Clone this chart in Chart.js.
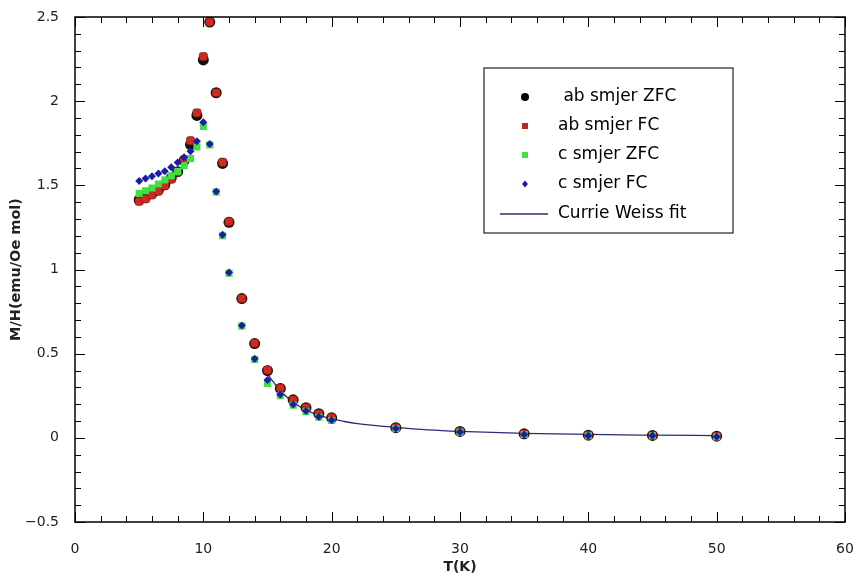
<!DOCTYPE html>
<html>
<head>
<meta charset="utf-8">
<script src="https://cdn.jsdelivr.net/npm/chart.js@4.4.1/dist/chart.umd.min.js"></script>
<style>
  html, body { margin: 0; padding: 0; background: #fff; }
  #wrap { width: 858px; height: 578px; }
</style>
</head>
<body>
<div id="wrap"><canvas id="grafico"></canvas></div>
<script>
// temperature points (K)
const tLow = [5, 5.5, 6, 6.5, 7, 7.5, 8, 8.5, 9, 9.5, 10, 10.5, 11, 11.5, 12, 13, 14, 15, 16, 17, 18, 19, 20, 25, 30, 35, 40, 45, 50];

// M/H values
const abZFC = [1.415, 1.43, 1.452, 1.472, 1.504, 1.543, 1.581, 1.647, 1.742, 1.915, 2.245, 2.47, 2.05, 1.63, 1.28, 0.827, 0.56, 0.399, 0.293, 0.226, 0.179, 0.143, 0.119, 0.06, 0.038, 0.024, 0.016, 0.014, 0.01];
const abFC  = [1.405, 1.42, 1.443, 1.466, 1.498, 1.538, 1.578, 1.652, 1.765, 1.93, 2.265, 2.47, 2.05, 1.637, 1.284, 0.827, 0.562, 0.402, 0.295, 0.226, 0.18, 0.143, 0.12, 0.06, 0.038, 0.024, 0.016, 0.014, 0.01];
const cZFC  = [1.452, 1.468, 1.484, 1.508, 1.532, 1.557, 1.583, 1.617, 1.659, 1.728, 1.85, 1.74, 1.46, 1.2, 0.978, 0.664, 0.465, 0.323, 0.25, 0.194, 0.155, 0.122, 0.103, 0.055, 0.033, 0.02, 0.012, 0.012, 0.006];
const cFC   = [1.526, 1.54, 1.554, 1.571, 1.583, 1.607, 1.635, 1.667, 1.702, 1.762, 1.875, 1.746, 1.464, 1.206, 0.982, 0.668, 0.47, 0.343, 0.258, 0.198, 0.159, 0.125, 0.105, 0.056, 0.034, 0.02, 0.012, 0.012, 0.006];

// Curie-Weiss fit curve
const fitT = [15, 16, 17, 18, 19, 20, 21, 22, 25, 27.5, 30, 35, 40, 45, 50];
const fitM = [0.378, 0.28, 0.212, 0.166, 0.135, 0.112, 0.097, 0.085, 0.062, 0.047, 0.038, 0.027, 0.02, 0.016, 0.013];

const legendLabels = [' ab smjer ZFC', 'ab smjer FC', 'c smjer ZFC', 'c smjer FC', 'Currie Weiss fit'];

const pts = (xs, ys) => xs.map((x, i) => ({ x: x, y: ys[i] }));

const FONT = "'DejaVu Sans', Verdana, sans-serif";

// inward ticks on all four sides + frame + legend box
const okvir = {
    id: 'okvir',
    afterDraw(chart) {
        const { ctx, chartArea: a, scales } = chart;
        const x = scales.x, y = scales.y;
        ctx.save();
        ctx.strokeStyle = '#000';
        ctx.lineWidth = 1;
        for (let v = 0; v <= 60; v += 2) {
            const px = Math.round(x.getPixelForValue(v)) + 0.5;
            const len = v % 10 === 0 ? 10 : 6;
            ctx.beginPath();
            ctx.moveTo(px, a.bottom); ctx.lineTo(px, a.bottom - len);
            ctx.moveTo(px, a.top); ctx.lineTo(px, a.top + len);
            ctx.stroke();
        }
        for (let i = -5; i <= 25; i++) {
            const py = Math.round(y.getPixelForValue(i / 10)) + 0.5;
            const len = i % 5 === 0 ? 10 : 6;
            ctx.beginPath();
            ctx.moveTo(a.left, py); ctx.lineTo(a.left + len, py);
            ctx.moveTo(a.right, py); ctx.lineTo(a.right - len, py);
            ctx.stroke();
        }
        ctx.lineWidth = 1.5;
        ctx.strokeRect(a.left, a.top, a.right - a.left, a.bottom - a.top);

        // legend box
        const bx = 484, by = 68, bw = 249, bh = 165;
        ctx.fillStyle = '#fff';
        ctx.fillRect(bx, by, bw, bh);
        ctx.lineWidth = 1.2;
        ctx.strokeStyle = '#222';
        ctx.strokeRect(bx, by, bw, bh);

        const rows = [97, 126, 155, 184, 214];
        const mx = 525;
        ctx.font = '17px ' + FONT;
        ctx.textBaseline = 'middle';
        ctx.fillStyle = '#000';
        legendLabels.forEach((t, i) => ctx.fillText(t, 558, rows[i]));

        ctx.fillStyle = '#000';
        ctx.beginPath(); ctx.arc(mx, rows[0], 4, 0, Math.PI * 2); ctx.fill();
        ctx.fillStyle = '#b52a22';
        ctx.fillRect(mx - 3, rows[1] - 3, 6, 6);
        ctx.fillStyle = '#3fe03f';
        ctx.fillRect(mx - 3, rows[2] - 3, 6, 6);
        ctx.fillStyle = '#1c1ca8';
        ctx.beginPath();
        ctx.moveTo(mx, rows[3] - 3.5); ctx.lineTo(mx + 3, rows[3]);
        ctx.lineTo(mx, rows[3] + 3.5); ctx.lineTo(mx - 3, rows[3]);
        ctx.closePath(); ctx.fill();
        ctx.strokeStyle = '#2b2b7a';
        ctx.lineWidth = 1.3;
        ctx.beginPath(); ctx.moveTo(500, rows[4]); ctx.lineTo(548, rows[4]); ctx.stroke();
        ctx.restore();
    }
};

const ctx = document.getElementById('grafico');
new Chart(ctx, {
    type: 'scatter',
    data: {
        datasets: [
            {
                label: legendLabels[4],
                data: pts(fitT, fitM),
                showLine: true,
                borderColor: '#2b2b7a',
                borderWidth: 1.3,
                pointRadius: 0,
                cubicInterpolationMode: 'monotone',
                order: 6
            },
            {
                label: legendLabels[0],
                data: pts(tLow, abZFC),
                pointStyle: 'circle',
                pointRadius: 5.5,
                backgroundColor: '#111',
                borderColor: '#111',
                borderWidth: 0,
                order: 5
            },
            {
                label: legendLabels[1],
                data: pts(tLow, abFC),
                pointStyle: 'rectRounded',
                pointRadius: 4.8,
                backgroundColor: '#d02a20',
                borderColor: '#6a1410',
                borderWidth: 0.6,
                order: 4
            },
            {
                label: legendLabels[2],
                data: pts(tLow, cZFC),
                pointStyle: 'rect',
                pointRadius: 5,
                backgroundColor: '#3fe03f',
                borderColor: '#3fe03f',
                borderWidth: 0,
                order: 3
            },
            {
                label: legendLabels[3],
                data: pts(tLow, cFC),
                pointStyle: 'rectRot',
                pointRadius: 4,
                backgroundColor: '#1c1ca8',
                borderColor: '#1c1ca8',
                borderWidth: 0,
                order: 2
            }
        ]
    },
    options: {
        responsive: true,
        maintainAspectRatio: false,
        animation: false,
        layout: { padding: { top: 17, right: 13, left: 8, bottom: 0 } },
        plugins: {
            legend: { display: false },
            tooltip: { enabled: false }
        },
        scales: {
            x: {
                type: 'linear',
                min: 0, max: 60,
                grid: { display: false, drawTicks: false },
                border: { display: false },
                afterFit: (s) => { s.height = 56; s.paddingLeft = 0; s.paddingRight = 0; },
                ticks: { stepSize: 10, padding: 19, color: '#222', font: { family: FONT, size: 14 } },
                title: { display: true, text: 'T(K)', color: '#222', padding: { top: 0, bottom: 2 }, font: { family: FONT, size: 14, weight: 'bold' } }
            },
            y: {
                type: 'linear',
                min: -0.5, max: 2.5,
                grid: { display: false, drawTicks: false },
                border: { display: false },
                afterFit: (s) => { s.width = 67; s.paddingTop = 0; s.paddingBottom = 0; },
                ticks: {
                    stepSize: 0.5, padding: 16, color: '#222', font: { family: FONT, size: 14 },
                    callback: (v) => String(v).replace('-', '\u2212')
                },
                title: { display: true, text: 'M/H(emu/Oe mol)', color: '#222', padding: { top: 0, bottom: 0 }, font: { family: FONT, size: 14.5, weight: 'bold' } }
            }
        }
    },
    plugins: [okvir]
});
</script>
</body>
</html>
